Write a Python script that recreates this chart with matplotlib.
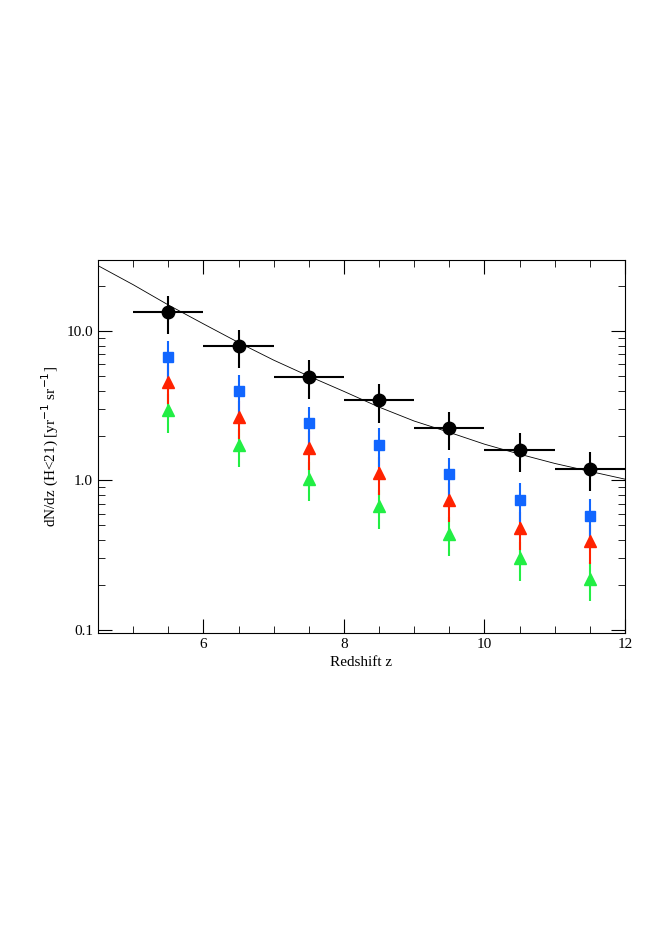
import matplotlib
matplotlib.use("Agg")
import matplotlib.pyplot as plt
from matplotlib.ticker import FixedLocator, FixedFormatter, LogLocator, NullFormatter, MultipleLocator

plt.rcParams['font.family'] = ['Liberation Serif', 'DejaVu Serif']

z = [5.5, 6.5, 7.5, 8.5, 9.5, 10.5, 11.5]
black = [13.4, 7.95, 4.96, 3.44, 2.24, 1.60, 1.20]
blue = [6.7, 3.95, 2.42, 1.73, 1.10, 0.74, 0.58]
red = [4.6, 2.66, 1.65, 1.12, 0.74, 0.48, 0.39]
green = [2.95, 1.72, 1.03, 0.67, 0.44, 0.30, 0.22]
rel_err = 0.29
curve_z = [4.5, 5.0, 5.5, 6.0, 6.5, 7.0, 7.5, 8.0, 8.5, 9.0, 9.5, 10.0, 10.5, 11.0, 11.5, 12.0]
curve_v = [27.5, 20.5, 15.0, 11.2, 8.4, 6.4, 5.0, 3.95, 3.1, 2.5, 2.1, 1.75, 1.5, 1.3, 1.15, 1.02]

fig = plt.figure(figsize=(6.54, 9.25), dpi=100)
ax = fig.add_axes([98/654, 1-633/925, 527/654, 373/925])
ax.set_yscale('log')
ax.plot(curve_z, curve_v, color='black', lw=0.6)

def eb(vals, col, marker, ms, xerr=None):
    lo = [v*rel_err for v in vals]
    hi = [v*rel_err for v in vals]
    ax.errorbar(z, vals, yerr=[lo, hi], xerr=xerr, fmt=marker, color=col, ms=ms,
                elinewidth=1.5, capsize=0, mec=col, mfc=col)

eb(green, '#22ee44', '^', 8)
eb(red, '#ff2200', '^', 8)
eb(blue, '#1166ff', 's', 7.5)
eb(black, 'black', 'o', 9, xerr=0.5)

ax.set_xlim(4.5, 12)
ax.set_ylim(0.095, 30)
ax.xaxis.set_major_locator(MultipleLocator(2))
ax.xaxis.set_minor_locator(MultipleLocator(0.5))
ax.yaxis.set_major_locator(FixedLocator([0.1, 1, 10]))
ax.yaxis.set_major_formatter(FixedFormatter(['0.1', '1.0', '10.0']))
ax.yaxis.set_minor_locator(LogLocator(base=10, subs=range(2, 10)))
ax.yaxis.set_minor_formatter(NullFormatter())
ax.tick_params(which='both', direction='in', top=True, right=True, labelsize=11)
ax.tick_params(which='major', length=10)
ax.tick_params(which='minor', length=5)
ax.set_xlabel('Redshift z', fontsize=11)
ax.set_ylabel(r'dN/dz (H<21) [yr$^{-1}$ sr$^{-1}$]', fontsize=11)
fig.savefig('out.png', dpi=100)
